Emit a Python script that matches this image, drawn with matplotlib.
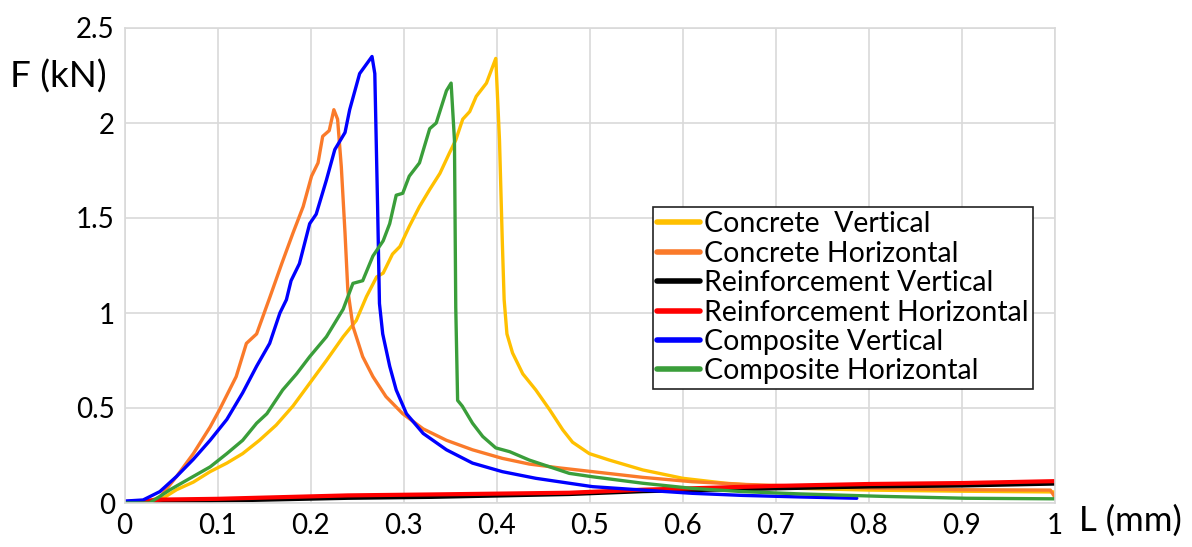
import matplotlib
matplotlib.use("Agg")
import matplotlib.pyplot as plt

plt.rcParams['font.family'] = ['Lato', 'DejaVu Sans']

# ---- data ----
conc_v_x = [0, 0.02, 0.038, 0.056, 0.074, 0.092, 0.110, 0.127, 0.145, 0.163, 0.181, 0.199, 0.217, 0.235,
            0.249, 0.260, 0.271, 0.278, 0.288, 0.296, 0.306, 0.317, 0.328, 0.339, 0.349, 0.356, 0.3635,
            0.371, 0.378, 0.389, 0.399, 0.403, 0.406, 0.408, 0.411, 0.417, 0.428, 0.442, 0.457, 0.471,
            0.4815, 0.4995, 0.521, 0.557, 0.600, 0.646, 0.725, 0.8, 0.9, 1.0]
conc_v_y = [0, 0, 0.015, 0.07, 0.11, 0.165, 0.21, 0.26, 0.33, 0.41, 0.51, 0.63, 0.75, 0.875,
            0.96, 1.086, 1.19, 1.21, 1.31, 1.35, 1.455, 1.56, 1.65, 1.735, 1.84, 1.91, 2.02,
            2.06, 2.14, 2.21, 2.34, 1.91, 1.38, 1.07, 0.89, 0.79, 0.68, 0.595, 0.49, 0.385,
            0.32, 0.26, 0.226, 0.174, 0.13, 0.104, 0.077, 0.068, 0.062, 0.058]

conc_h_x = [0, 0.02, 0.038, 0.056, 0.074, 0.092, 0.102, 0.120, 0.131, 0.142, 0.156, 0.169, 0.181, 0.192,
            0.201, 0.208, 0.213, 0.220, 0.225, 0.229, 0.233, 0.237, 0.240, 0.2455, 0.256, 0.267, 0.281,
            0.299, 0.321, 0.346, 0.374, 0.406, 0.435, 0.467, 0.503, 0.557, 0.610, 0.664, 0.725, 0.8,
            0.9, 0.995, 1.0]
conc_h_y = [0, 0, 0.03, 0.14, 0.26, 0.40, 0.49, 0.665, 0.84, 0.89, 1.08, 1.26, 1.42, 1.56,
            1.72, 1.79, 1.93, 1.96, 2.07, 2.02, 1.77, 1.42, 1.12, 0.93, 0.77, 0.665, 0.56,
            0.47, 0.39, 0.33, 0.28, 0.235, 0.205, 0.185, 0.165, 0.135, 0.112, 0.098, 0.089, 0.078,
            0.07, 0.068, 0.03]

reinf_v_x = [0.03, 0.1, 0.24, 0.33, 0.478, 0.557, 0.7, 0.8, 0.9, 1.0]
reinf_v_y = [0.0, 0.01, 0.025, 0.03, 0.045, 0.06, 0.075, 0.085, 0.09, 0.1]

reinf_h_x = [0, 0.02, 0.04, 0.1, 0.24, 0.33, 0.478, 0.557, 0.7, 0.8, 0.9, 1.0]
reinf_h_y = [0.005, 0.01, 0.018, 0.022, 0.04, 0.045, 0.054, 0.07, 0.09, 0.1, 0.105, 0.115]

comp_v_x = [0, 0.02, 0.038, 0.056, 0.074, 0.092, 0.110, 0.127, 0.142, 0.156, 0.167, 0.174, 0.179, 0.188,
            0.199, 0.206, 0.217, 0.226, 0.237, 0.242, 0.2527, 0.266, 0.269, 0.272, 0.274, 0.2775, 0.285,
            0.292, 0.303, 0.321, 0.346, 0.374, 0.406, 0.442, 0.478, 0.503, 0.557, 0.610, 0.664, 0.725,
            0.787]
comp_v_y = [0.01, 0.016, 0.06, 0.14, 0.23, 0.33, 0.44, 0.58, 0.72, 0.84, 1.0, 1.07, 1.17, 1.26,
            1.47, 1.52, 1.70, 1.86, 1.95, 2.07, 2.26, 2.35, 2.26, 1.56, 1.05, 0.89, 0.72,
            0.595, 0.47, 0.366, 0.28, 0.21, 0.165, 0.13, 0.104, 0.086, 0.068, 0.051, 0.04, 0.032,
            0.025]

comp_h_x = [0, 0.027, 0.049, 0.074, 0.092, 0.110, 0.127, 0.142, 0.153, 0.170, 0.185, 0.199, 0.217, 0.235,
            0.2455, 0.256, 0.267, 0.278, 0.285, 0.292, 0.299, 0.306, 0.317, 0.328, 0.335, 0.346, 0.351,
            0.3546, 0.356, 0.358, 0.363, 0.374, 0.385, 0.399, 0.414, 0.435, 0.478, 0.503, 0.557, 0.610,
            0.664, 0.725, 0.814, 0.904, 1.0]
comp_h_y = [0, 0, 0.07, 0.14, 0.19, 0.26, 0.33, 0.42, 0.47, 0.595, 0.68, 0.77, 0.875, 1.02,
            1.156, 1.17, 1.30, 1.38, 1.47, 1.62, 1.63, 1.72, 1.79, 1.97, 2.0, 2.17, 2.21,
            1.91, 1.03, 0.54, 0.51, 0.42, 0.35, 0.29, 0.27, 0.226, 0.156, 0.138, 0.104, 0.077,
            0.06, 0.048, 0.035, 0.025, 0.022]

labels = ["Concrete  Vertical", "Concrete Horizontal", "Reinforcement Vertical",
          "Reinforcement Horizontal", "Composite Vertical", "Composite Horizontal"]
colors = ["#FFC000", "#FA7A2A", "#000000", "#FF0000", "#0000FF", "#3A9E3A"]
series = [(conc_v_x, conc_v_y), (conc_h_x, conc_h_y), (reinf_v_x, reinf_v_y),
          (reinf_h_x, reinf_h_y), (comp_v_x, comp_v_y), (comp_h_x, comp_h_y)]

x_ticks = [0, 0.1, 0.2, 0.3, 0.4, 0.5, 0.6, 0.7, 0.8, 0.9, 1.0]
x_tick_labels = ["0", "0.1", "0.2", "0.3", "0.4", "0.5", "0.6", "0.7", "0.8", "0.9", "1"]
y_ticks = [0, 0.5, 1.0, 1.5, 2.0, 2.5]
y_tick_labels = ["0", "0.5", "1", "1.5", "2", "2.5"]

fig = plt.figure(figsize=(11.92, 5.47), dpi=100)
ax = fig.add_axes([124.5 / 1192, 44 / 547, (1055 - 124.5) / 1192, (503 - 28) / 547])

for (xs, ys), lab, c in zip(series, labels, colors):
    ax.plot(xs, ys, color=c, lw=2.4 if c != "#FF0000" else 3.0, label=lab,
            solid_capstyle='round', solid_joinstyle='round')

ax.set_xlim(0, 1)
ax.set_ylim(0, 2.5)
ax.set_xticks(x_ticks)
ax.set_xticklabels(x_tick_labels)
ax.set_yticks(y_ticks)
ax.set_yticklabels(y_tick_labels)
ax.grid(True, color="#D9D9D9", lw=1.2)
ax.set_axisbelow(True)
for s in ax.spines.values():
    s.set_color("#D9D9D9")
    s.set_linewidth(1.2)
ax.tick_params(length=0, labelsize=20, pad=7, colors="#000000")

fig.text(10 / 1192, 1 - 77 / 547, "F (kN)", fontsize=26.5, ha="left", va="center")
fig.text(1079 / 1192, 1 - 521 / 547, "L (mm)", fontsize=25, ha="left", va="center")

leg = ax.legend(loc="upper left", bbox_to_anchor=((653 - 124.5) / 930.5, (503 - 207) / 475),
                fontsize=20.5, frameon=True, fancybox=False, handlelength=1.5, handletextpad=0.15,
                labelspacing=0.12, borderpad=0.15, borderaxespad=0, framealpha=1)
leg.get_frame().set_edgecolor("#222222")
leg.get_frame().set_linewidth(1.2)
for line in leg.get_lines():
    line.set_linewidth(4)

fig.savefig("out.png", dpi=100)
